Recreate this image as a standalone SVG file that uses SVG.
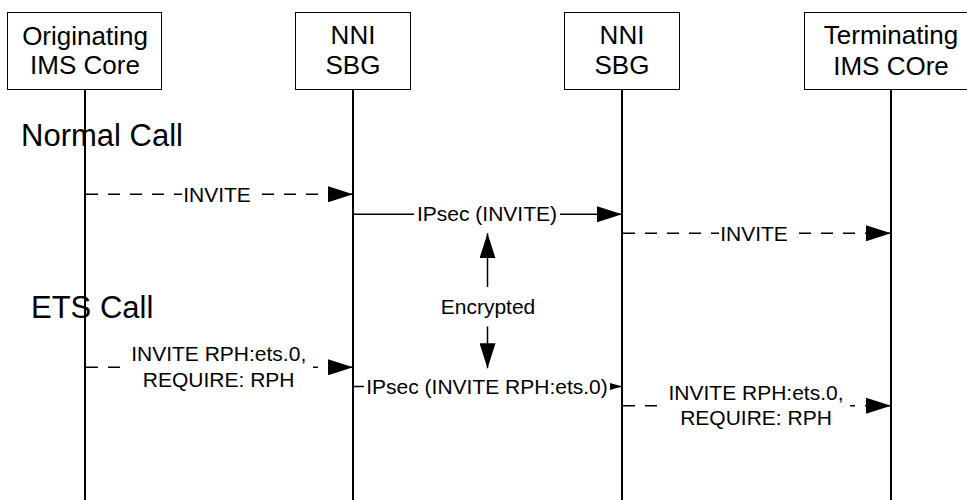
<svg xmlns="http://www.w3.org/2000/svg" width="967" height="500" viewBox="0 0 967 500">
  <style>
    text { font-family: "Liberation Sans", Arial, sans-serif; fill: #000; }
    .node rect { fill: #fff; stroke: #000; stroke-width: 1; }
    .node text { font-size: 26px; text-anchor: middle; }
    .life { stroke: #000; stroke-width: 2; fill: none; }
    .msg { stroke: #000; stroke-width: 1.5; fill: none; }
    .dash { stroke-dasharray: 12 10; }
    .lbl { font-size: 21px; text-anchor: middle; }
    .bg { fill: #fff; stroke: none; }
    .section { font-size: 31px; }
  </style>
  <defs>
    <marker id="head" viewBox="0 0 25 16" refX="25" refY="8" markerWidth="25" markerHeight="16" markerUnits="userSpaceOnUse" orient="auto">
      <path d="M0,0 L25,8 L0,16 z" fill="#000"/>
    </marker>
    <marker id="headSmall" viewBox="0 0 12 7" refX="12" refY="3.5" markerWidth="12" markerHeight="7" markerUnits="userSpaceOnUse" orient="auto">
      <path d="M0,0 L12,3.5 L0,7 z" fill="#000"/>
    </marker>
  </defs>

  <rect width="967" height="500" fill="#fff"/>

  <!-- participants -->
  <g id="orig-ims" class="node">
    <rect x="7.5" y="12.5" width="154" height="77"/>
    <text x="85" y="45">Originating</text>
    <text x="85" y="74">IMS Core</text>
  </g>
  <g id="nni-sbg-1" class="node">
    <rect x="295.5" y="12.5" width="115" height="77"/>
    <text x="353" y="44">NNI</text>
    <text x="353" y="74">SBG</text>
  </g>
  <g id="nni-sbg-2" class="node">
    <rect x="564.5" y="12.5" width="115" height="77"/>
    <text x="622" y="44">NNI</text>
    <text x="622" y="74">SBG</text>
  </g>
  <g id="term-ims" class="node">
    <rect x="804.5" y="12.5" width="173" height="77"/>
    <text x="891" y="44">Terminating</text>
    <text x="891" y="75">IMS COre</text>
  </g>

  <!-- lifelines -->
  <g id="lifelines">
    <line class="life" x1="85" y1="89.5" x2="85" y2="500"/>
    <line class="life" x1="353" y1="89.5" x2="353" y2="500"/>
    <line class="life" x1="622" y1="89.5" x2="622" y2="500"/>
    <line class="life" x1="891" y1="89.5" x2="891" y2="500"/>
  </g>

  <!-- section titles -->
  <text class="section" x="21" y="146">Normal Call</text>
  <text class="section" x="31" y="318">ETS Call</text>

  <!-- messages -->
  <g id="connectors">
    <!-- normal call -->
    <line class="msg dash" x1="86" y1="194.3" x2="353" y2="194.3" marker-end="url(#head)"/>
    <rect class="bg" x="182" y="183" width="70" height="22"/>
    <text class="lbl" x="217" y="201.7">INVITE</text>

    <line class="msg" x1="354" y1="214.3" x2="622" y2="214.3" marker-end="url(#head)"/>
    <rect class="bg" x="414" y="203" width="146" height="22"/>
    <text class="lbl" x="487" y="221">IPsec (INVITE)</text>

    <line class="msg dash" x1="623" y1="233.3" x2="891" y2="233.3" marker-end="url(#head)"/>
    <rect class="bg" x="719" y="222" width="70" height="22"/>
    <text class="lbl" x="754" y="240.7">INVITE</text>

    <!-- encrypted marker -->
    <line class="msg" x1="487.5" y1="287" x2="487.5" y2="233.3" marker-end="url(#head)"/>
    <line class="msg" x1="487.5" y1="326.5" x2="487.5" y2="368.3" marker-end="url(#head)"/>
    <text class="lbl" x="488" y="313.5">Encrypted</text>

    <!-- ETS call -->
    <line class="msg dash" x1="86" y1="367.3" x2="353" y2="367.3" marker-end="url(#head)"/>
    <rect class="bg" x="125" y="344" width="188" height="47"/>
    <text class="lbl" x="218.7" y="361">INVITE RPH:ets.0,</text>
    <text class="lbl" x="218.7" y="386.7">REQUIRE: RPH</text>

    <line class="msg" x1="354" y1="386.5" x2="622" y2="386.5" marker-end="url(#headSmall)"/>
    <rect class="bg" x="364" y="375" width="246" height="23"/>
    <text class="lbl" x="487" y="393.5">IPsec (INVITE RPH:ets.0)</text>

    <line class="msg dash" x1="623" y1="405.7" x2="891" y2="405.7" marker-end="url(#head)"/>
    <rect class="bg" x="662" y="382" width="188" height="47"/>
    <text class="lbl" x="756" y="400">INVITE RPH:ets.0,</text>
    <text class="lbl" x="756" y="425">REQUIRE: RPH</text>
  </g>
</svg>
